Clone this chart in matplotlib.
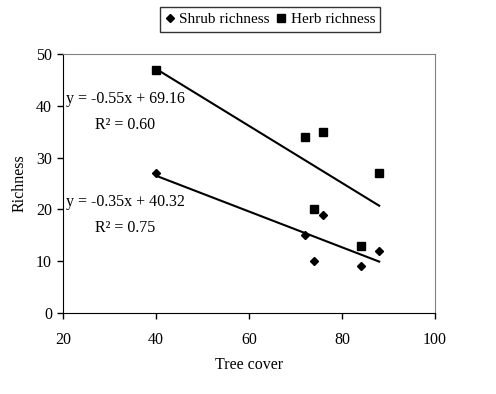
import matplotlib
matplotlib.use('Agg')
import matplotlib.pyplot as plt
import numpy as np

plt.rcParams['font.family'] = ['Liberation Serif', 'DejaVu Serif']

tree_cover = [40, 72, 76, 74, 84, 88]
shrub_richness = [27, 15, 19, 10, 9, 12]
herb_richness = [47, 34, 35, 20, 13, 27]

fig = plt.figure(figsize=(4.96, 3.94), dpi=100)
ax = fig.add_axes([63/496, 81/394, 372/496, 259/394])

ax.plot(tree_cover, shrub_richness, 'D', color='black', markersize=4, label='Shrub richness')
ax.plot(tree_cover, herb_richness, 's', color='black', markersize=5.5, label='Herb richness')

# linear trend lines
xs = np.array([min(tree_cover), max(tree_cover)])
for ys in (shrub_richness, herb_richness):
    m, b = np.polyfit(tree_cover, ys, 1)
    ax.plot(xs, m * xs + b, color='black', linewidth=1.5)

ax.text(20.7, 41.3, 'y = -0.55x + 69.16', fontsize=11.5, va='center')
ax.text(26.8, 36.3, 'R² = 0.60', fontsize=11.5, va='center')
ax.text(20.7, 21.5, 'y = -0.35x + 40.32', fontsize=11.5, va='center')
ax.text(26.8, 16.5, 'R² = 0.75', fontsize=11.5, va='center')

ax.set_xlim(20, 100)
ax.set_ylim(0, 50)
ax.set_xticks([20, 40, 60, 80, 100])
ax.set_yticks([0, 10, 20, 30, 40, 50])
ax.tick_params(direction='out', length=4, width=1, labelsize=11.5, color='black', pad=10)
ax.tick_params(axis='y', pad=4)
ax.spines['top'].set_color('#808080')
ax.spines['right'].set_color('#808080')
ax.set_xlabel('Tree cover', fontsize=11.5, labelpad=6)
ax.set_ylabel('Richness', fontsize=11.5, labelpad=6)

leg = fig.legend(loc='center', bbox_to_anchor=(270/496, 1 - 19.5/394), ncol=2, fontsize=11,
                 frameon=True, fancybox=False, edgecolor='black', handlelength=0.6,
                 handletextpad=0.3, columnspacing=0.5, borderpad=0.35, borderaxespad=0)
leg.get_frame().set_linewidth(1)

fig.savefig('out.png', dpi=100)
